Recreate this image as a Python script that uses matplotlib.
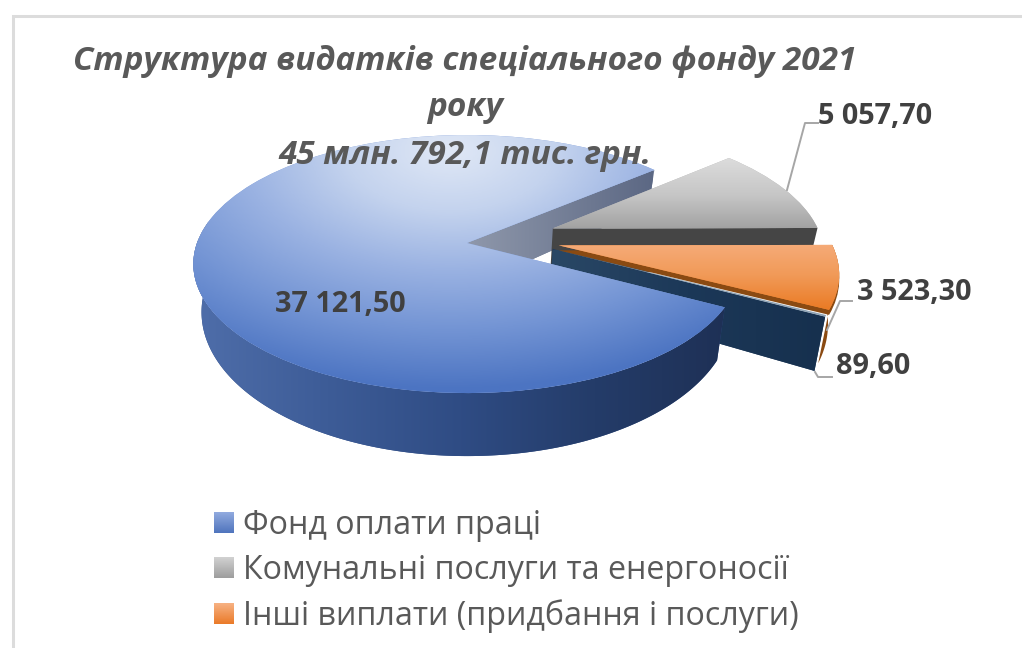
import numpy as np
import matplotlib
matplotlib.use("Agg")
import matplotlib.pyplot as plt
from matplotlib.colors import LinearSegmentedColormap as LSC
from matplotlib.patches import Polygon, Patch, Wedge
from matplotlib.transforms import Transform, Affine2D

# ---- data ----
categories = ["Фонд оплати праці", "Комунальні послуги та енергоносії",
              "Інші виплати (придбання і послуги)", ""]
values = [37121.50, 5057.70, 3523.30, 89.60]
value_labels = ["37 121,50", "5 057,70", "3 523,30", "89,60"]
explode = [0.0, 0.345, 0.345, 0.345]
title_lines = ["Структура видатків спеціального фонду 2021", "року",
               "45 млн. 792,1 тис. грн."]

plt.rcParams["font.family"] = ["Open Sans", "DejaVu Sans"]
W, H = 1022, 648
fig = plt.figure(figsize=(W / 100, H / 100), dpi=100, facecolor="white")
ax = fig.add_axes([0, 0, 1, 1])

CX, CY, RX, SY, K = 467.0, 243.0, 270.0, 125.6, 0.163


class Persp(Transform):
    input_dims = output_dims = 2
    is_separable = False
    has_inverse = False

    def transform_non_affine(self, v):
        v = np.asarray(v, float)
        d = 1 + K * v[:, 1]
        return np.column_stack([CX + RX * v[:, 0] / d, CY - SY * v[:, 1] / d])


persp = Persp()
wedges, _ = ax.pie(values, explode=explode, startangle=-28.2, counterclock=False,
                   radius=1, frame=False)
blue, grey, orange, tiny = wedges
ax.set_aspect("auto")
ax.set_xlim(0, W)
ax.set_ylim(H, 0)
ax.axis("off")

shift = {id(blue): (0, 0), id(grey): (0, 0), id(orange): (0, -8), id(tiny): (1, -15)}


def tf(w):
    dx, dy = shift[id(w)]
    return persp + Affine2D().translate(dx, dy) + ax.transData


def lower(p):
    p = np.atleast_2d(p)
    return np.column_stack([CX + (p[:, 0] - CX) * 0.97, 288.6 + 1.116 * (p[:, 1] - CY)])


def top_pts(w, angles):
    a = np.radians(angles)
    pts = np.column_stack([w.center[0] + w.r * np.cos(a), w.center[1] + w.r * np.sin(a)])
    dx, dy = shift[id(w)]
    return persp.transform(pts) + [dx, dy]


def grad(artist, img, extent, cmap, z):
    im = ax.imshow(img, extent=extent, cmap=cmap, vmin=0, vmax=1, aspect="auto",
                   interpolation="bilinear", zorder=z)
    if artist is not None:
        im.set_clip_path(artist)
    ax.set_xlim(0, W)
    ax.set_ylim(H, 0)


def hgrad(artist, x0, x1, y0, y1, colors, z):
    cm = LSC.from_list("c", colors)
    grad(artist, np.linspace(0, 1, 256)[None, :], (x0, x1, y1, y0), cm, z)


def vgrad(artist, x0, x1, y0, y1, colors, z):
    cm = LSC.from_list("c", colors)
    grad(artist, np.linspace(0, 1, 256)[:, None], (x0, x1, y1, y0), cm, z)


# frame: only top and left edges show in the crop
ax.plot([12.5, 12.5, W], [H, 15.5, 15.5], color="#dcdcdc", lw=2.2, zorder=0.5,
        solid_joinstyle="miter")

# blue cut wall (back)
p_top = np.vstack([persp.transform([[0, 0]]), top_pts(blue, [blue.theta1])])
poly = Polygon(np.vstack([p_top, lower(p_top)[::-1]]), closed=True, fc="#6a7690", ec="none", zorder=2)
ax.add_patch(poly)
hgrad(poly, 467, 653, 160, 320, ["#8f98ab", "#5c6884"], 2.1)

# grey wedge with wall
apex_g = persp.transform([grey.center])[0]
rim_g = top_pts(grey, [grey.theta1])[0]
gw = Polygon(np.vstack([apex_g, rim_g, lower(rim_g), lower(apex_g)]), closed=True,
             fc="#454545", ec="none", zorder=3)
ax.add_patch(gw)
grey.set_transform(tf(grey))
grey.set(zorder=4, facecolor="#b5b5b5", edgecolor="none")
vgrad(grey, 550, 830, 155, 235, ["#dedede", "#c6c6c6", "#9b9b9b"], 4.1)

# orange rim (brown), tiny wedge wall (navy)
th = np.linspace(orange.theta1, orange.theta2, 60)
rp = top_pts(orange, th)
ow = Polygon(np.vstack([rp, lower(rp)[::-1]]), closed=True, fc="#8a4a12", ec="none", zorder=5)
ax.add_patch(ow)

apex_t = persp.transform([tiny.center])[0] + shift[id(tiny)]
rim_t = top_pts(tiny, [tiny.theta1])[0]
nq = Polygon(np.vstack([apex_t, rim_t, lower(rim_t), lower(apex_t)]), closed=True,
             fc="#1f3a5c", ec="none", zorder=6)
ax.add_patch(nq)
hgrad(nq, 550, 825, 250, 375, ["#2a4866", "#1c3858", "#16304e"], 6.1)
tiny.set_transform(tf(tiny))
tiny.set(zorder=7, facecolor="#8fa3b5", edgecolor="none")

brown = Wedge(orange.center, orange.r, orange.theta1, orange.theta2, fc="#8a4a12", ec="none",
              transform=persp + Affine2D().translate(0, -3) + ax.transData, zorder=8)
ax.add_patch(brown)
orange.set_transform(tf(orange))
orange.set(zorder=9, facecolor="#f08a3c", edgecolor="none")
vgrad(orange, 550, 840, 240, 310, ["#f6ad7c", "#f19a58", "#ea7a24"], 9.1)

# blue side wall (front half only) + top
th = np.linspace(-190, blue.theta2, 300)
rp = top_pts(blue, th)
side = Polygon(np.vstack([rp, lower(rp)[::-1]]), closed=True, fc="#2f4d85", ec="none", zorder=10)
ax.add_patch(side)
hgrad(side, 193, 730, 240, 460, ["#4f6eaa", "#3d5c97", "#2f4c84", "#243c69", "#1e3055"], 10.1)

blue.set_transform(tf(blue))
blue.set(zorder=11, facecolor="#7f9cd8", edgecolor="none")
yy, xx = np.mgrid[130:400:200j, 190:740:300j]
rad = np.sqrt(((xx - 450) / 420) ** 2 + ((yy - 150) / 240) ** 2)
cm = LSC.from_list("b", ["#e0e8f6", "#c4d3ee", "#9ab2e2", "#7394d4", "#4c74c2"])
grad(blue, np.clip(rad, 0, 1), (190, 740, 400, 130), cm, 11.1)

# leader lines
lc = "#a6a6a6"
for xs, ys in [((787, 805, 818), (190, 123, 123)),
               ((827, 840, 852), (330, 301, 301)),
               ((815, 818, 832), (372, 377, 377))]:
    ax.plot(xs, ys, color=lc, lw=1.4, zorder=12)

# labels
lab = dict(color="#404040", fontweight="bold", fontsize=20.8, va="center", ha="left", zorder=20)
for s, (x, y) in zip(value_labels, [(275, 304), (818, 116), (857, 292), (836, 367)]):
    ax.text(x, y, s, **lab)

# title
for s, y in zip(title_lines, [62, 108, 155]):
    ax.text(465, y, s, ha="center", va="center", color="#595959", fontsize=24,
            fontweight="bold", fontstyle="italic", zorder=20)

# legend
leg_h = [Patch(fc="#6f8fd0", ec="none"), Patch(fc="#b0b0b0", ec="none"), Patch(fc="#f0883a", ec="none")]
leg = ax.legend(leg_h, categories[:3], loc="upper left", bbox_to_anchor=(214 / W, 1 - 509 / H),
                frameon=False, fontsize=23.2, labelcolor="#595959", handlelength=0.62,
                handleheight=0.62, handletextpad=0.28, borderpad=0, borderaxespad=0,
                labelspacing=0.38)
fig.canvas.draw()
inv = ax.transData.inverted()
for p, cols in zip(leg.get_patches(), [["#92abdf", "#4f74bd"], ["#d2d2d2", "#9d9d9d"], ["#f7b284", "#ea7a28"]]):
    bb = p.get_window_extent()
    (x0, y0), (x1, y1) = inv.transform([(bb.x0, bb.y0), (bb.x1, bb.y1)])
    vgrad(None, x0, x1, y1, y0, cols, 30)

fig.savefig("out.png", dpi=100, facecolor="white")
